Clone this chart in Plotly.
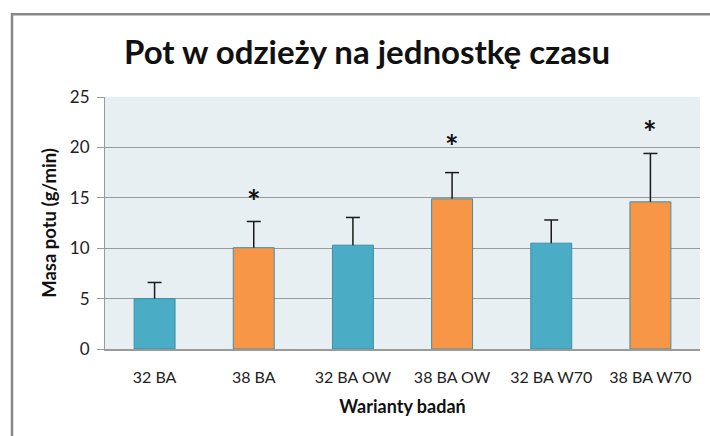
import plotly.graph_objects as go

categories = ["32 BA", "38 BA", "32 BA OW", "38 BA OW", "32 BA W70", "38 BA W70"]
means = [5.0, 10.05, 10.3, 14.9, 10.5, 14.6]
sd_plus = [1.6, 2.6, 2.75, 2.6, 2.3, 4.8]
significant = [False, True, False, True, False, True]
star_y = [None, 15.45, None, 20.9, None, 22.3]

TEAL = "#4BACC6"
ORANGE = "#F79646"
colors = [ORANGE if s else TEAL for s in significant]

FONT = "Lato, 'Open Sans', sans-serif"
ERR = "#1a1a1a"

fig = go.Figure()
fig.add_trace(go.Bar(
    x=categories, y=means,
    marker=dict(color=colors, line=dict(color="#3f8fa6", width=1)),
    hoverinfo="skip",
))
# error bar stems (no caps) + caps as markers at the top of each whisker
tops = [m + s for m, s in zip(means, sd_plus)]
fig.add_trace(go.Scatter(
    x=categories, y=tops, mode="markers",
    marker=dict(symbol="line-ew-open", size=10, color=ERR, line=dict(color=ERR, width=1.5)),
    error_y=dict(type="data", symmetric=False, array=[0]*len(sd_plus), arrayminus=sd_plus,
                 color=ERR, thickness=1.5, width=0),
    hoverinfo="skip",
))

for c, s, y in zip(categories, significant, star_y):
    if s:
        fig.add_annotation(x=c, y=y, xref="x", yref="y", text="<b>*</b>", showarrow=False,
                           font=dict(family=FONT, size=32, color="#111111"),
                           yanchor="middle", yshift=-8)

fig.update_layout(
    width=710, height=436,
    margin=dict(l=105, r=10, t=97, b=87),
    paper_bgcolor="white",
    plot_bgcolor="#E8EFF3",
    bargap=0.587,
    showlegend=False,
    font=dict(family=FONT, size=16, color="#222222"),
    title=dict(text="<b>Pot w odzieży na jednostkę czasu</b>", xref="container", x=0.517,
               xanchor="center", yref="container", y=0.88, yanchor="middle",
               font=dict(family=FONT, size=33, color="#111111")),
    shapes=[dict(type="rect", xref="paper", yref="paper",
                 x0=-93/595, x1=1.05, y0=-0.5, y1=1 + 83/252.5,
                 line=dict(color="#888888", width=2.5), fillcolor="rgba(0,0,0,0)", layer="below")],
)

fig.update_yaxes(range=[0, 25], dtick=5, showgrid=True, gridcolor="#9a9a9a", gridwidth=1,
                 showline=True, linecolor="#9a9a9a", linewidth=1, ticks="outside",
                 ticklen=7, tickcolor="#9a9a9a", zeroline=False, ticklabelstandoff=4,
                 tickfont=dict(family=FONT, size=17, color="#222222"),
                 title=dict(text="<b>Masa potu (g/min)</b>", standoff=8,
                            font=dict(family=FONT, size=18.5, color="#111111")))
fig.update_xaxes(showline=True, linecolor="#9a9a9a", linewidth=1.5, ticks="",
                 ticklabelstandoff=13,
                 tickfont=dict(family=FONT, size=16, color="#222222"),
                 title=dict(text="<b>Warianty badań</b>", standoff=15,
                            font=dict(family=FONT, size=18, color="#111111")))

fig.write_html("out.html", config={"displayModeBar": False},
               post_script="document.body.style.margin='0';document.body.style.overflow='hidden';")
